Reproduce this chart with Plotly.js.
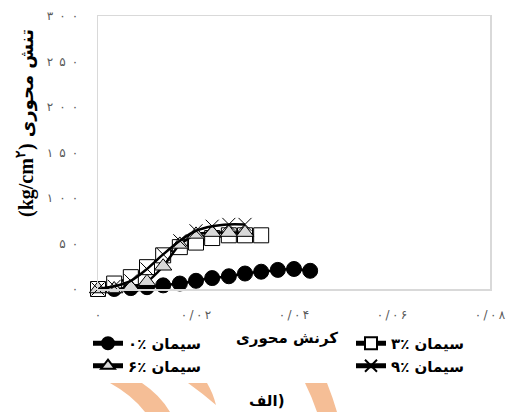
<!DOCTYPE html>
<html>
<head>
<meta charset="utf-8">
<script src="https://cdn.plot.ly/plotly-3.0.1.min.js"></script>
<style>
  html, body { margin: 0; padding: 0; background: #fff; }
  #chart { width: 509px; height: 412px; }
</style>
</head>
<body>
<div id="chart"></div>
<script>
// Axial strain readings (shared by all mixes)
const strain = [0, 0.0033, 0.0067, 0.01, 0.0133, 0.0167, 0.02, 0.0233, 0.0267, 0.03, 0.0333, 0.0367, 0.04, 0.0433];

// Axial stress (kg/cm2) for each cement content
const stress0 = [0, 0, 1, 2, 4, 6, 9, 12, 14, 17, 19, 21, 22, 20];
const stress3 = [0, 6, 13, 24, 37, 46, 51, 56, 59, 59, 59];
const stress6 = [0, 0, 2, 8, 25, 49, 60, 62, 62, 62];
const stress9 = [0, 3, 9, 22, 38, 53, 64, 69, 71, 71];

const seriesNames = ['۰٪ سیمان', '۳٪ سیمان', '۶٪ سیمان', '۹٪ سیمان'];

// tick labels (characters set slightly apart)
const xTickVals = [0, 0.02, 0.04, 0.06, 0.08];
const xTickText = ['۰', '۰/۰۲', '۰/۰۴', '۰/۰۶', '۰/۰۸'];
const yTickVals = [0, 50, 100, 150, 200, 250, 300];
const yTickText = ['۰', '۵۰', '۱۰۰', '۱۵۰', '۲۰۰', '۲۵۰', '۳۰۰'];
const spaced = (s, sp) => Array.from(s).join(sp);

const FA = 'DejaVu Sans, Noto Sans, sans-serif';
const LRM = '\u200E';

// plot area in pixels, used to place decorations in paper units
const W = 509, H = 412;
const M = { l: 98, r: 19, t: 16, b: 123 };
const pw = W - M.l - M.r, ph = H - M.t - M.b;
const px = x => (x - M.l) / pw;
const py = y => (H - M.b - y) / ph;

function pathFrom(cmds) {
  return cmds.map(c => {
    if (c[0] === 'Z') return 'Z';
    const pts = [];
    for (let i = 1; i < c.length; i += 2) pts.push(px(c[i]).toFixed(4) + ',' + py(c[i + 1]).toFixed(4));
    return c[0] + ' ' + pts.join(' ');
  }).join(' ');
}

function series(name, y, marker, legend) {
  return {
    type: 'scatter', mode: 'lines+markers', name: name,
    x: strain.slice(0, y.length), y: y,
    line: { color: '#000', width: 2.5, shape: 'spline', smoothing: 0.6 },
    marker: marker, legend: legend, cliponaxis: false
  };
}

const traces = [
  series(seriesNames[0], stress0, { symbol: 'circle', size: 15, color: '#000', line: { color: '#000', width: 1 } }, 'legend'),
  series(seriesNames[1], stress3, { symbol: 'square', size: 15, color: '#fff', line: { color: '#000', width: 1 } }, 'legend2'),
  series(seriesNames[2], stress6, { symbol: 'triangle-up', size: 15, color: '#d9d9d9', line: { color: '#000', width: 1 } }, 'legend'),
  series(seriesNames[3], stress9, { symbol: 'x-thin-open', size: 13, color: '#000', line: { color: '#000', width: 1 } }, 'legend2')
];

const legendFont = { family: FA, size: 15, color: '#000', weight: 'bold' };
const peach = '#f5be96';
const tickFont = { family: FA, size: 12, color: '#595959' };

const layout = {
  width: W, height: H,
  margin: M,
  paper_bgcolor: '#fff', plot_bgcolor: '#fff',
  showlegend: true,
  xaxis: {
    range: [0, 0.08], tickvals: xTickVals, ticktext: xTickText.map(s => spaced(s, '\u2009')),
    showline: true, mirror: true, linecolor: '#d9d9d9', linewidth: 1.5,
    showgrid: false, zeroline: false, ticks: '',
    ticklabelstandoff: 14, ticklabeloverflow: 'allow', tickfont: tickFont
  },
  yaxis: {
    range: [0, 300], tickvals: yTickVals, ticktext: yTickText.map(s => spaced(s, '\u2002')),
    showline: true, mirror: true, linecolor: '#d9d9d9', linewidth: 1.5,
    showgrid: false, zeroline: false, ticks: '',
    ticklabelstandoff: 16, ticklabeloverflow: 'allow', tickfont: tickFont
  },
  legend: {
    x: px(88), y: py(327), xanchor: 'left', yanchor: 'top',
    orientation: 'v', font: legendFont, bgcolor: 'rgba(0,0,0,0)',
    tracegroupgap: 0, itemwidth: 30, itemsizing: 'constant'
  },
  legend2: {
    x: px(351), y: py(327), xanchor: 'left', yanchor: 'top',
    orientation: 'v', font: legendFont, bgcolor: 'rgba(0,0,0,0)',
    tracegroupgap: 0, itemwidth: 30, itemsizing: 'constant'
  },
  annotations: [
    {
      text: LRM + '<span style="font-family:Liberation Serif, serif;font-size:20px">(kg/cm<sup>۲</sup>)</span> تنش محوری',
      textangle: -90, xanchor: 'center', yanchor: 'middle',
      xref: 'paper', yref: 'paper', x: px(25), y: py(123),
      showarrow: false, font: { family: FA, size: 18, color: '#000', weight: 'bold' }
    },
    {
      text: 'کرنش محوری', xanchor: 'center', yanchor: 'middle',
      xref: 'paper', yref: 'paper', x: px(287), y: py(338),
      showarrow: false, font: { family: FA, size: 15, color: '#000', weight: 'bold' }
    },
    {
      text: 'الف)', xanchor: 'center', yanchor: 'middle',
      xref: 'paper', yref: 'paper', x: px(267), y: py(401),
      showarrow: false, font: { family: FA, size: 15, color: '#000', weight: 'bold' }
    }
  ],
  shapes: [
    { type: 'path', xref: 'paper', yref: 'paper', layer: 'below', fillcolor: peach, line: { width: 0 },
      path: pathFrom([['M', 110, 383], ['L', 142, 383], ['Q', 160, 395, 170, 412], ['L', 145, 412], ['Q', 132, 395, 110, 383], ['Z']]) },
    { type: 'path', xref: 'paper', yref: 'paper', layer: 'below', fillcolor: peach, line: { width: 0 },
      path: pathFrom([['M', 188, 383], ['L', 207, 383], ['Q', 213, 393, 216, 405], ['Q', 202, 393, 188, 383], ['Z']]) },
    { type: 'path', xref: 'paper', yref: 'paper', layer: 'below', fillcolor: peach, line: { width: 0 },
      path: pathFrom([['M', 305, 383], ['L', 327, 383], ['Q', 333, 398, 337, 412], ['L', 317, 412], ['Q', 312, 397, 305, 383], ['Z']]) }
  ]
};

Plotly.newPlot('chart', traces, layout, { displayModeBar: false, staticPlot: true });
</script>
</body>
</html>
